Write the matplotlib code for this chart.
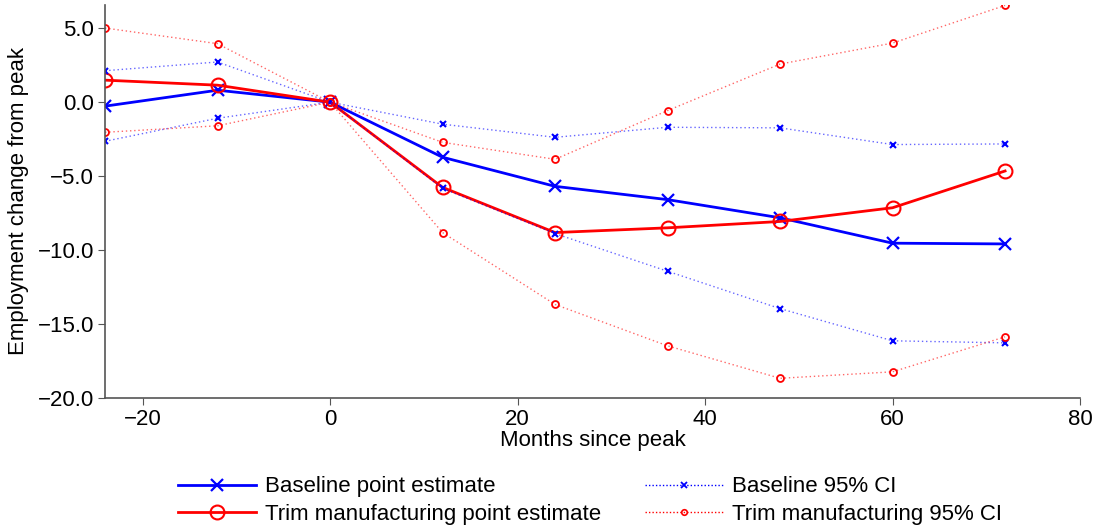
import matplotlib
matplotlib.use("Agg")
import matplotlib.pyplot as plt
from matplotlib.ticker import FuncFormatter

plt.rcParams['font.family'] = ['Liberation Sans', 'DejaVu Sans']

# months since the employment peak
months = [-24, -12, 0, 12, 24, 36, 48, 60, 72]

# point estimates
baseline = [-0.27, 0.81, 0.0, -3.73, -5.70, -6.60, -7.83, -9.55, -9.60]
trim = [1.49, 1.15, 0.0, -5.77, -8.83, -8.51, -8.08, -7.15, -4.66]

# 95% confidence bands
baseline_hi = [2.13, 2.72, 0.0, -1.49, -2.38, -1.70, -1.74, -2.87, -2.83]
baseline_lo = [-2.65, -1.09, 0.0, -5.84, -8.90, -11.45, -13.98, -16.16, -16.30]
trim_hi = [5.02, 3.96, 0.0, -2.72, -3.87, -0.57, 2.58, 4.00, 6.55]
trim_lo = [-2.04, -1.60, 0.0, -8.83, -13.70, -16.50, -18.70, -18.26, -15.89]

FS = 16

fig = plt.figure(figsize=(11.01, 5.31), dpi=100)
ax = fig.add_axes([0.0954, 0.2514, 0.8856, 0.7392])

ax.plot(months, baseline, color='blue', lw=2, marker='x', ms=8, mew=1.6,
        label='Baseline point estimate')
ax.plot(months, trim, color='red', lw=2, marker='o', ms=10, mfc='none', mew=1.5,
        label='Trim manufacturing point estimate')

ax.plot(months, baseline_hi, color='blue', lw=1, ls=(0, (1, 2)), alpha=0.6)
ax.plot(months, baseline_hi, color='blue', ls='none', marker='x', ms=5, mew=1.5)
ax.plot(months, baseline_lo, color='blue', lw=1, ls=(0, (1, 2)), alpha=0.6)
ax.plot(months, baseline_lo, color='blue', ls='none', marker='x', ms=5, mew=1.5)
ax.plot(months, trim_hi, color='red', lw=1, ls=(0, (1, 2)), alpha=0.6)
ax.plot(months, trim_hi, color='red', ls='none', marker='o', ms=5, mfc='none', mew=1.3)
ax.plot(months, trim_lo, color='red', lw=1, ls=(0, (1, 2)), alpha=0.6)
ax.plot(months, trim_lo, color='red', ls='none', marker='o', ms=5, mfc='none', mew=1.3)

# legend proxies for the CI lines
ax.plot([], [], color='blue', lw=1, ls=(0, (1, 1.5)), marker='x', ms=4, mew=1.3,
        label='Baseline 95% CI')
ax.plot([], [], color='red', lw=1, ls=(0, (1, 1.5)), marker='o', ms=4, mfc='none', mew=1.2,
        label='Trim manufacturing 95% CI')

ax.set_xlim(-24, 80)
ax.set_ylim(-20, 6.58)
ax.set_xticks([-20, 0, 20, 40, 60, 80])
ax.set_yticks([-20, -15, -10, -5, 0, 5])
ax.yaxis.set_major_formatter(FuncFormatter(lambda v, p: f'{v:.1f}'.replace('-', '\u2212')))

for side in ['top', 'right']:
    ax.spines[side].set_visible(False)
for side in ['left', 'bottom']:
    ax.spines[side].set_color('#555555')
    ax.spines[side].set_linewidth(1.2)
ax.tick_params(direction='out', length=5, color='#555555', labelsize=FS, pad=3)

ax.set_xlabel('Months since peak', fontsize=FS, labelpad=0)
ax.set_ylabel('Employment change from peak', fontsize=FS, labelpad=6)

fig.legend(loc='center', bbox_to_anchor=(0.536, 0.057), ncol=2, frameon=False,
           fontsize=FS, handlelength=3.5, handletextpad=0.4, columnspacing=2.0,
           labelspacing=0.3)

fig.savefig('out.png', dpi=100)
